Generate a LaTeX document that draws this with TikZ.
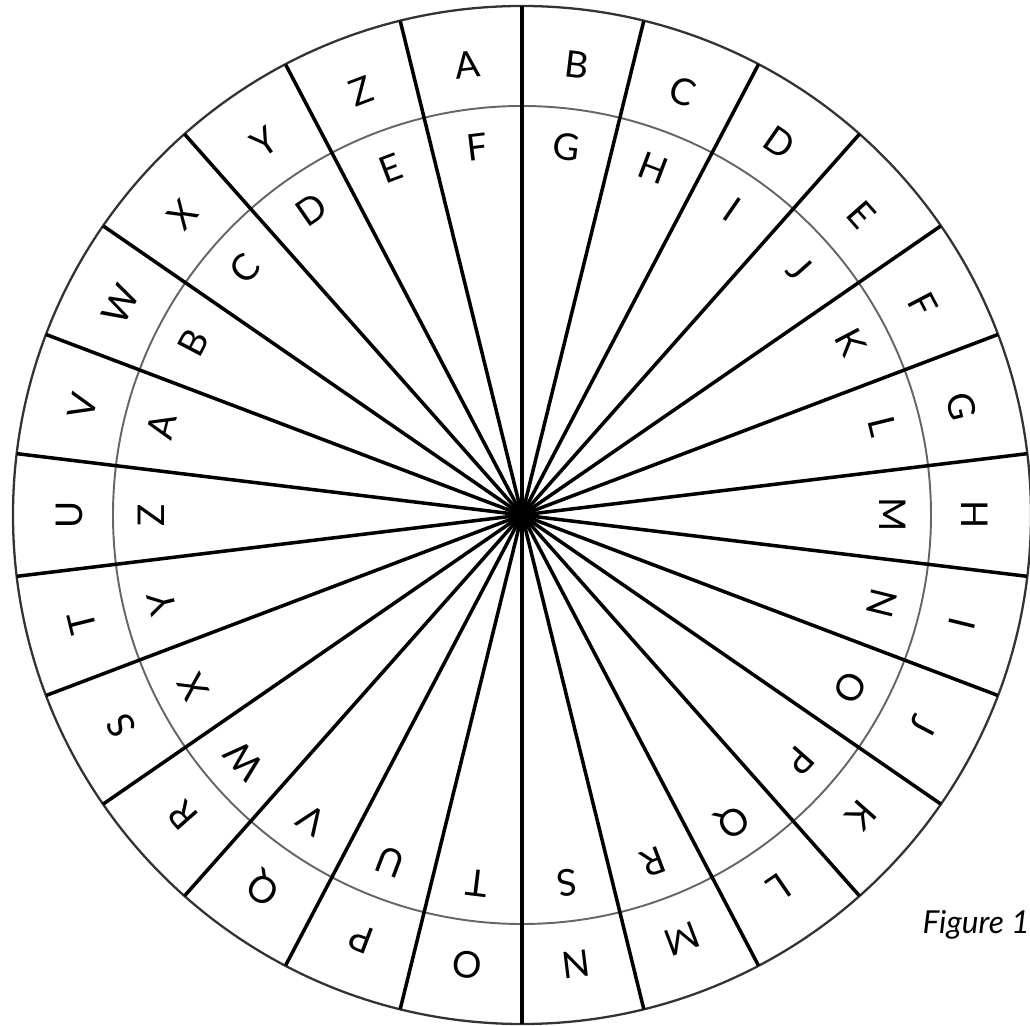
\documentclass[tikz,border=0pt]{standalone}
\usepackage{fontspec}
\setmainfont{Lato}
\usepackage{tikz}
\usetikzlibrary{calc}

\begin{document}
\begin{tikzpicture}[x=0.02cm,y=0.02cm,
  spoke/.style={line width=2pt,black},
  rim/.style={line width=1.3pt,black!80},
  ring/.style={line width=1.1pt,black!60},
  outlet/.style={font=\fontsize{21}{21}\selectfont,inner sep=0pt},
  inlet/.style={font=\fontsize{21}{21}\selectfont,inner sep=0pt},
  figlabel/.style={font=\fontsize{18}{18}\selectfont\itshape,inner sep=0pt,anchor=east}]
\useasboundingbox (-522,-511) rectangle (508,515);
\coordinate (hub) at (0,0);
% rings
\draw[ring] (hub) circle[radius=409];
\draw[rim] (hub) circle[radius=509];
% spokes
\foreach \k in {0,...,25}{
  \draw[spoke] (hub) -- ({90-\k*360/26}:509);}
% letters, outer wheel and inner wheel (shift 5)
\foreach \o/\i [count=\k from 0] in {A/F,B/G,C/H,D/I,E/J,F/K,G/L,H/M,I/N,J/O,K/P,L/Q,M/R,
    N/S,O/T,P/U,Q/V,R/W,S/X,T/Y,U/Z,V/A,W/B,X/C,Y/D,Z/E}{
  \pgfmathsetmacro{\a}{90+180/26-\k*360/26}
  \node[outlet,rotate=\a-90] (o\k) at (\a:453) {\o};
  \node[inlet,rotate=\a-90] (i\k) at (\a:371) {\i};
}
\node[figlabel] (fig) at (508,-410) {Figure 1};
\end{tikzpicture}
\end{document}
